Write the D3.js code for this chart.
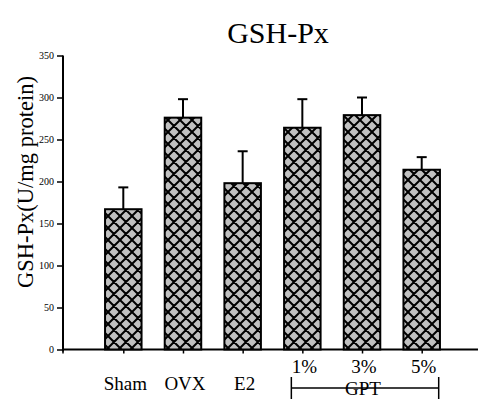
<!DOCTYPE html>
<html>
<head>
<meta charset="utf-8">
<script src="https://cdn.jsdelivr.net/npm/d3@7"></script>
<style>
  body { margin: 0; background: #fff; }
  svg { display: block; }
  text { font-family: "Liberation Serif", "Times New Roman", serif; fill: #000; }
</style>
</head>
<body>
<svg id="chart"></svg>
<script>
var groups = ["Sham", "OVX", "E2", "1%", "3%", "5%"];
var means = [167, 276, 198, 264, 279, 214];
var errors = [26, 22, 38, 34, 21, 15];
var yTicks = [0, 50, 100, 150, 200, 250, 300, 350];

var width = 478, height = 405;
var axisLeft = 63, axisBottom = 349.5, axisTop = 55.5;
var serif = "Liberation Serif, Times New Roman, serif";

var svg = d3.select("#chart")
  .attr("width", width)
  .attr("height", height);

// cross hatch pattern
var pat = svg.append("defs").append("pattern")
  .attr("id", "hatch")
  .attr("patternUnits", "userSpaceOnUse")
  .attr("width", 12)
  .attr("height", 12);
pat.append("rect").attr("width", 12).attr("height", 12).attr("fill", "#c0c0c0");
pat.append("path")
  .attr("d", "M-3,-3L15,15M-3,15L15,-3M-3,9L3,15M9,-3L15,3M-3,3L3,-3M9,15L15,9")
  .attr("stroke", "#000")
  .attr("stroke-width", 2);

var x = d3.scalePoint()
  .domain(groups)
  .range([123.3, 421.7]);

var bw = 36.5;

var y = d3.scaleLinear()
  .domain([0, 350])
  .range([axisBottom, axisTop]);

// y axis
var yAxis = svg.append("g")
  .attr("transform", "translate(" + axisLeft + ",0)")
  .call(d3.axisLeft(y).tickValues(yTicks).tickSize(6).tickPadding(3).tickSizeOuter(0));
yAxis.select(".domain").attr("stroke-width", 2).attr("d", "M0," + axisTop + "V" + (axisBottom + 2));
yAxis.selectAll(".tick line").attr("stroke-width", 1.5);
yAxis.selectAll(".tick text")
  .style("font-size", "10px")
  .style("font-family", serif)
  .attr("fill", "#000");

// x axis
var xAxis = svg.append("g")
  .attr("transform", "translate(0," + axisBottom + ")")
  .call(d3.axisBottom(x).tickSize(4).tickSizeOuter(0).tickFormat(""));
xAxis.select(".domain").attr("stroke-width", 2).attr("d", "M" + axisLeft + ",0H" + width);
xAxis.selectAll(".tick line").attr("stroke-width", 1.5);
xAxis.append("line")
  .attr("x1", axisLeft).attr("x2", axisLeft)
  .attr("y1", 0).attr("y2", 4)
  .attr("stroke", "#000").attr("stroke-width", 1.5);

// error bars (upper only)
var err = svg.append("g").selectAll("g")
  .data(groups)
  .enter().append("g");
err.append("line")
  .attr("x1", function (d) { return x(d); })
  .attr("x2", function (d) { return x(d); })
  .attr("y1", function (d, i) { return y(means[i]); })
  .attr("y2", function (d, i) { return y(means[i] + errors[i]); })
  .attr("stroke", "#000").attr("stroke-width", 2);
err.append("line")
  .attr("x1", function (d) { return x(d) - 5; })
  .attr("x2", function (d) { return x(d) + 5; })
  .attr("y1", function (d, i) { return y(means[i] + errors[i]); })
  .attr("y2", function (d, i) { return y(means[i] + errors[i]); })
  .attr("stroke", "#000").attr("stroke-width", 2);

// bars
svg.append("g").selectAll("rect")
  .data(groups)
  .enter().append("rect")
  .attr("x", function (d) { return x(d) - bw / 2; })
  .attr("width", bw)
  .attr("y", function (d, i) { return y(means[i]); })
  .attr("height", function (d, i) { return axisBottom - y(means[i]); })
  .attr("fill", "url(#hatch)")
  .attr("stroke", "#000")
  .attr("stroke-width", 2);

// title
svg.append("text")
  .attr("x", 278).attr("y", 43)
  .attr("text-anchor", "middle")
  .style("font-family", serif)
  .style("font-size", "30px")
  .text("GSH-Px");

// y title
svg.append("text")
  .attr("transform", "translate(33,182) rotate(-90)")
  .attr("text-anchor", "middle")
  .style("font-family", serif)
  .style("font-size", "22.5px")
  .text("GSH-Px(U/mg protein)");

// group labels
var lower = ["Sham", "OVX", "E2"];
svg.append("g").selectAll("text")
  .data(lower)
  .enter().append("text")
  .attr("x", function (d) { return x(d) + 2; })
  .attr("y", 390)
  .attr("text-anchor", "middle")
  .style("font-family", serif)
  .style("font-size", "19px")
  .text(function (d) { return d; });

var upper = ["1%", "3%", "5%"];
svg.append("g").selectAll("text")
  .data(upper)
  .enter().append("text")
  .attr("x", function (d) { return x(d) + 2; })
  .attr("y", 373)
  .attr("text-anchor", "middle")
  .style("font-family", serif)
  .style("font-size", "19px")
  .text(function (d) { return d; });

// GPT bracket
var bx1 = x("1%") - 11, bx2 = x("5%") + 17;
var br = svg.append("g");
br.append("line").attr("x1", bx1).attr("x2", bx2).attr("y1", 388).attr("y2", 388)
  .attr("stroke", "#000").attr("stroke-width", 1.5);
br.append("line").attr("x1", bx1).attr("x2", bx1).attr("y1", 377).attr("y2", 399)
  .attr("stroke", "#000").attr("stroke-width", 1.5);
br.append("line").attr("x1", bx2).attr("x2", bx2).attr("y1", 377).attr("y2", 399)
  .attr("stroke", "#000").attr("stroke-width", 1.5);
br.append("text")
  .attr("x", x("3%") + 1).attr("y", 395)
  .attr("text-anchor", "middle")
  .style("font-family", serif)
  .style("font-size", "19px")
  .text("GPT");
</script>
</body>
</html>
